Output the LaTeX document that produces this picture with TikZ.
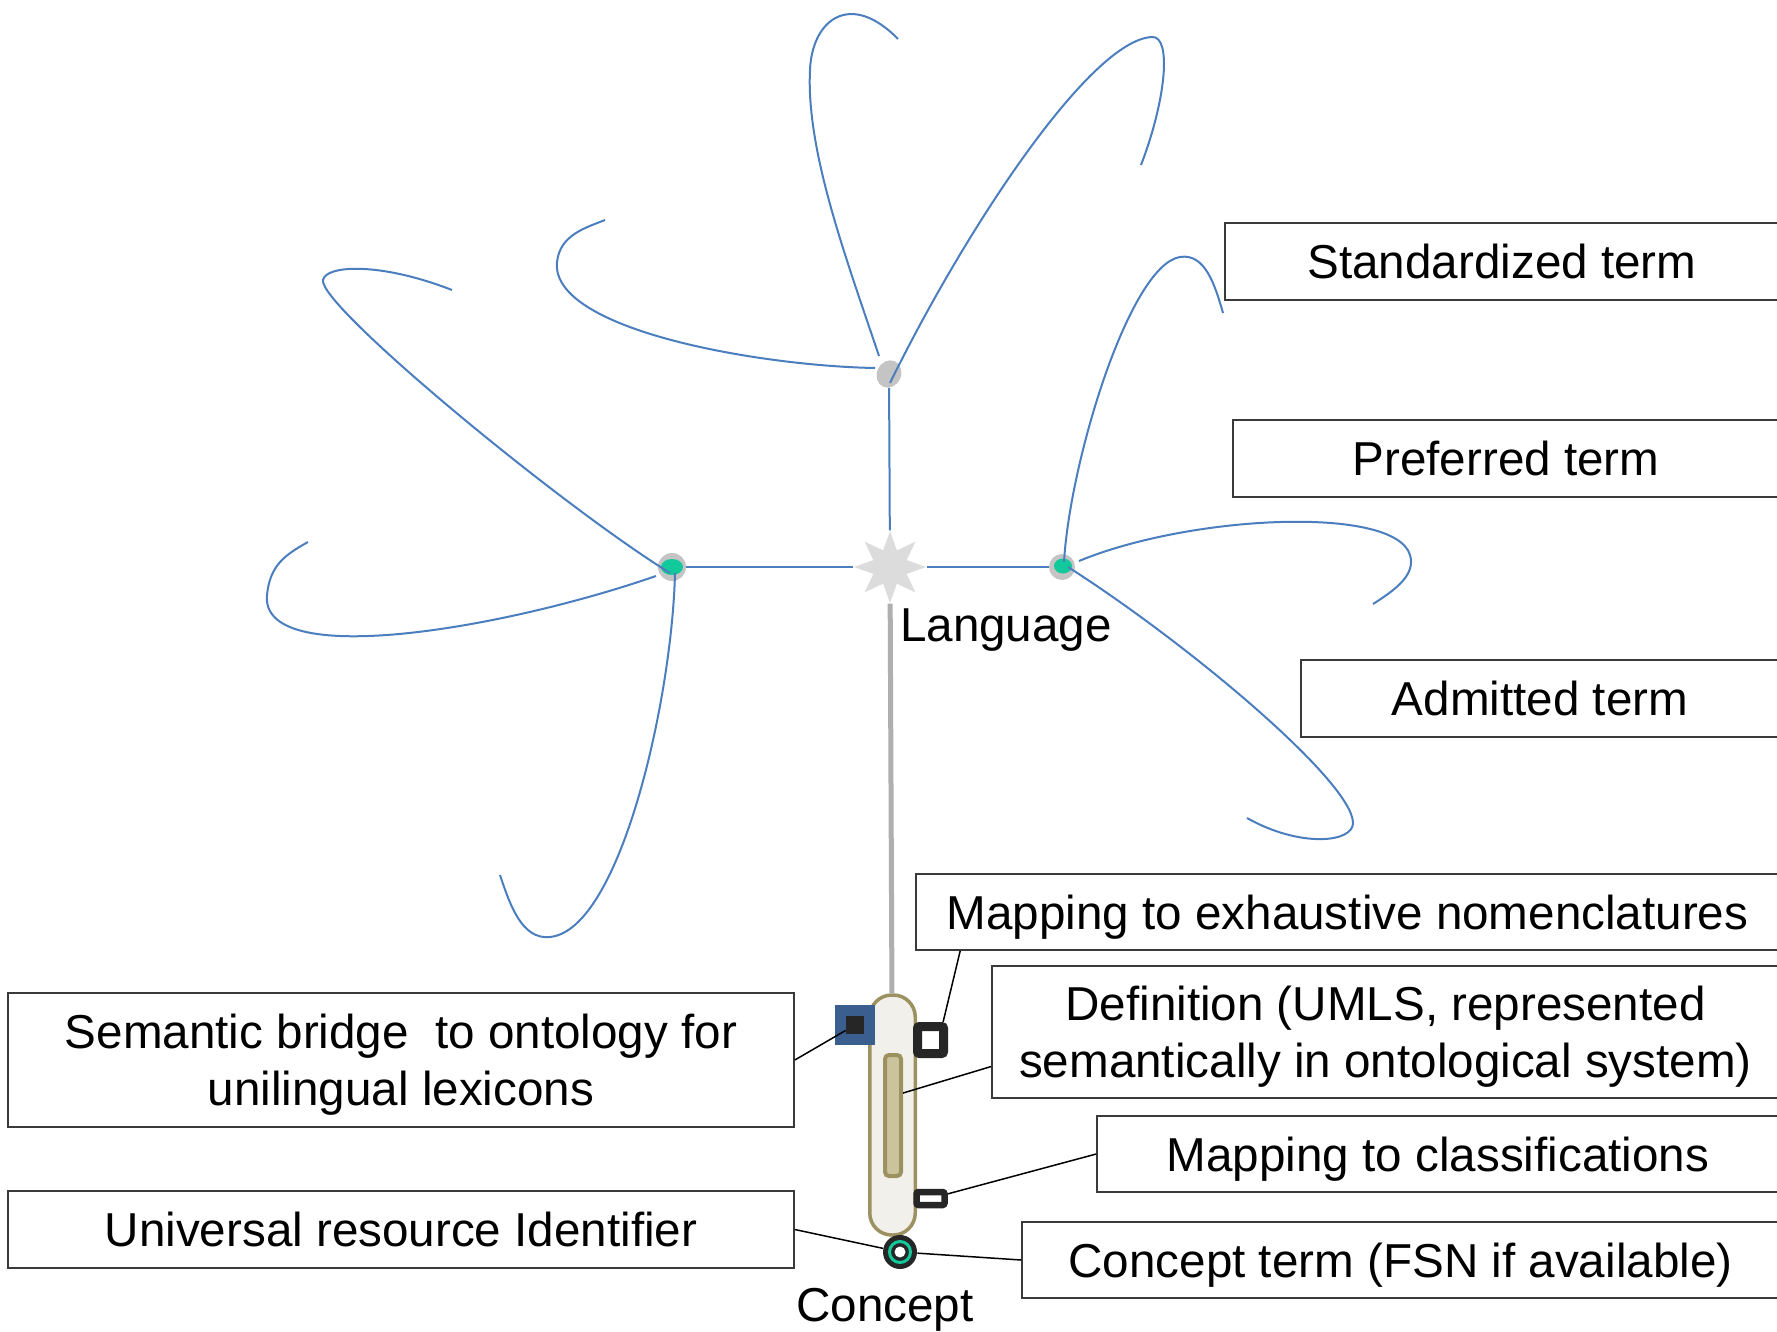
\documentclass[tikz,border=0pt]{standalone}
\usepackage{fontspec}
\setmainfont{Liberation Sans}
\usetikzlibrary{shapes.geometric}
\definecolor{petalblue}{HTML}{4A7EBF}
\definecolor{nodegreen}{HTML}{12C99B}
\definecolor{ringgray}{HTML}{C4C4C4}
\definecolor{stargray}{HTML}{DCDCDC}
\definecolor{stemgray}{HTML}{AFAFAF}
\definecolor{olive}{HTML}{9C9160}
\definecolor{pillfill}{HTML}{F2F0EA}
\definecolor{barfill}{HTML}{CBC39C}
\definecolor{bridgeblue}{HTML}{3A5F8E}
\definecolor{darkbox}{HTML}{262626}
\definecolor{boxline}{HTML}{3A3A3A}

\begin{document}
\begin{tikzpicture}[x=0.5pt, y=-0.5pt,
	termbox/.style={draw=boxline, line width=0.8pt, fill=white, inner sep=0pt, align=center, text depth=0pt, font=\fontsize{23.8}{28.6}\selectfont},
	labeltext/.style={inner sep=0pt, font=\fontsize{23.8}{28.6}\selectfont},
	petal/.style={petalblue, line width=1pt},
	wire/.style={black, line width=0.75pt}]
	\path[fill=white, use as bounding box] (0,0) rectangle (1777,1332);
	% Term Boxes %
	\node[termbox, minimum width=277pt, minimum height=38.5pt] (std) at (1502,261.5) {Standardized term};
	\node[termbox, minimum width=273pt, minimum height=38.5pt] (pref) at (1506,458.5) {Preferred term};
	\node[termbox, minimum width=239pt, minimum height=38.5pt] (adm) at (1540,698.5) {Admitted term};
	\node[termbox, minimum width=431.5pt, minimum height=38pt] (exh) at (1347.5,912) {Mapping to exhaustive nomenclatures};
	\node[termbox, minimum width=393.5pt, minimum height=66pt] (def) at (1385.5,1032) {Definition (UMLS, represented\\semantically in ontological system)};
	\node[termbox, minimum width=341pt, minimum height=38pt] (cls) at (1438,1154) {Mapping to classifications};
	\node[termbox, minimum width=378.5pt, minimum height=38pt] (cterm) at (1400.5,1260) {Concept term (FSN if available)};
	\node[termbox, minimum width=393pt, minimum height=67pt] (sem) at (401,1060) {Semantic bridge~ to ontology for\\unilingual lexicons};
	\node[termbox, minimum width=393pt, minimum height=38.5pt] (uri) at (401,1229.5) {Universal resource Identifier};
	% Language Hub %
	\node[star, star points=8, star point ratio=2, fill=stargray, minimum size=36pt, inner sep=0pt] (lang) at (890,567) {};
	\node[ellipse, fill=ringgray, minimum width=12pt, minimum height=14pt, inner sep=0pt, rotate=-25] (topnode) at (889,374) {};
	\node[circle, fill=ringgray, minimum size=14pt, inner sep=0pt] (leftnode) at (672,567) {};
	\node[ellipse, fill=nodegreen, minimum width=11pt, minimum height=8pt, inner sep=0pt] (leftcore) at (672,567) {};
	\node[circle, fill=ringgray, minimum size=13pt, inner sep=0pt] (rightnode) at (1062,567) {};
	\node[ellipse, fill=nodegreen, minimum width=9pt, minimum height=7.5pt, inner sep=0pt] (rightcore) at (1063,566) {};
	\node[labeltext] (langlabel) at (1006,630) {Language};
	\draw[petal] (lang) -- (topnode);
	\draw[petal] (lang) -- (leftnode);
	\draw[petal] (lang) -- (rightnode);
	% Petals %
	\draw[petal] (879,356) .. controls (845,255) and (806,150) .. (810,70) .. controls (812,20) and (850,-10) .. (898,39);
	\draw[petal] (890,383) .. controls (965,230) and (1090,40) .. (1152,37) .. controls (1172,36) and (1166,100) .. (1141,165);
	\draw[petal] (875,368) .. controls (760,366) and (550,330) .. (557,262) .. controls (560,235) and (585,228) .. (605,220);
	\draw[petal] (670,573) .. controls (560,505) and (318,305) .. (323,280) .. controls (326,265) and (380,262) .. (452,290);
	\draw[petal] (656,576) .. controls (500,630) and (260,670) .. (267,595) .. controls (270,565) and (285,555) .. (308,542);
	\draw[petal] (675,573) .. controls (672,700) and (620,930) .. (550,937) .. controls (522,940) and (510,905) .. (500,875);
	\draw[petal] (1064,562) .. controls (1070,460) and (1130,265) .. (1180,257) .. controls (1205,253) and (1215,285) .. (1223,313);
	\draw[petal] (1079,561) .. controls (1190,515) and (1395,505) .. (1410,555) .. controls (1416,575) and (1395,590) .. (1373,604);
	\draw[petal] (1068,567) .. controls (1190,645) and (1350,780) .. (1353,822) .. controls (1354.5,843) and (1300,848) .. (1247,818);
	% Concept %
	\node[draw=olive, fill=pillfill, line width=1.75pt, rounded corners=11pt, minimum width=22.75pt, minimum height=120pt, inner sep=0pt] (pill) at (892.5,1115) {};
	\node[draw=olive, fill=barfill, line width=2pt, rounded corners=2pt, minimum width=8pt, minimum height=60.5pt, inner sep=0pt] (defbar) at (893,1115.5) {};
	\node[fill=bridgeblue, minimum size=20pt, inner sep=0pt] (bridge) at (855,1025) {};
	\node[fill=darkbox, minimum size=9pt, inner sep=0pt] (bridgecore) at (855,1025) {};
	\node[draw=darkbox, fill=white, line width=4.5pt, rounded corners=1pt, minimum width=13pt, minimum height=13.5pt, inner sep=0pt] (mapexh) at (930.5,1040) {};
	\node[draw=darkbox, fill=white, line width=3.25pt, rounded corners=1pt, minimum width=14pt, minimum height=6.5pt, inner sep=0pt] (mapcls) at (930.5,1198.5) {};
	\node[circle, fill=darkbox, minimum size=17pt, inner sep=0pt] (conc) at (900,1252) {};
	\node[circle, draw=nodegreen, line width=1.5pt, minimum size=10.5pt, inner sep=0pt] (concring) at (900,1252) {};
	\node[circle, fill=white, minimum size=5.5pt, inner sep=0pt] (conchole) at (900,1252) {};
	\node[labeltext] (conclabel) at (885,1310) {Concept};
	\draw[stemgray, line width=2.5pt] (lang) -- (pill);
	% Connectors %
	\draw[wire] (sem.east) -- (bridgecore);
	\draw[wire] (uri.east) -- (conc);
	\draw[wire] (conc) -- (cterm.west);
	\draw[wire] (mapcls) -- (cls.west);
	\draw[wire] (defbar.66) -- (def.185);
	\draw[wire] (mapexh.55) -- ([xshift=22.5pt]exh.south west);
\end{tikzpicture}
\end{document}
